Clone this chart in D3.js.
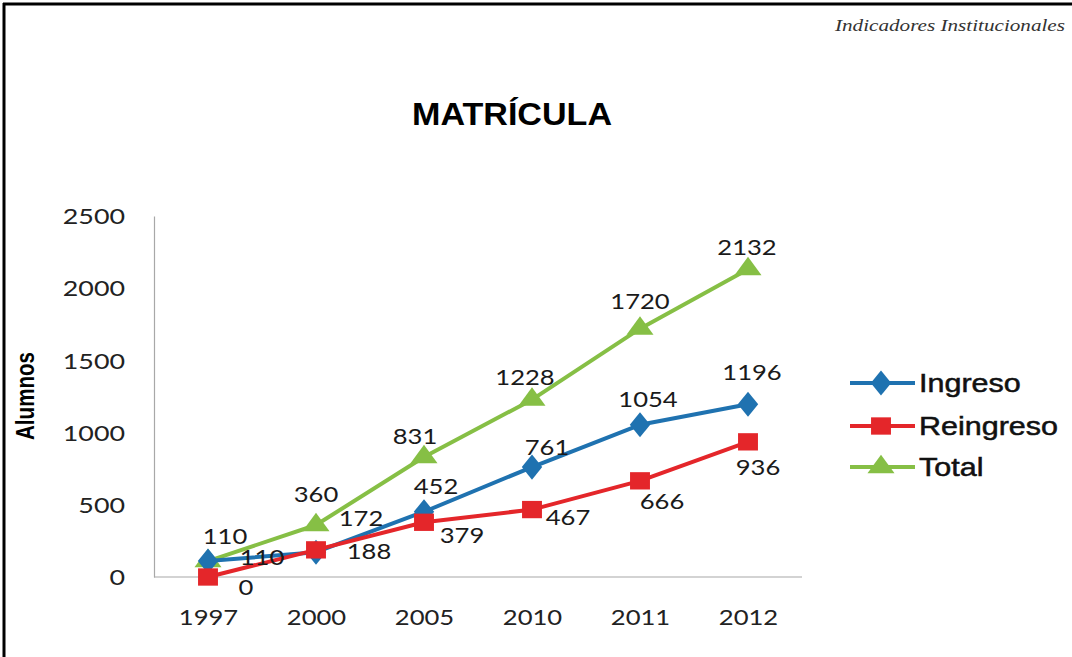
<!DOCTYPE html>
<html><head><meta charset="utf-8">
<script src="https://cdn.jsdelivr.net/npm/d3@7/dist/d3.min.js"></script>
<style>html,body{margin:0;padding:0;background:#fff;}</style>
</head><body>
<svg id="c" width="1072" height="657"></svg>
<script>
// ---- data ----
const years = ["1997","2000","2005","2010","2011","2012"];
const ingreso = [110,172,452,761,1054,1196];
const reingreso = [0,188,379,467,666,936];
const total = [110,360,831,1228,1720,2132];
const yTicks = [0,500,1000,1500,2000,2500];
const seriesNames = ["Ingreso","Reingreso","Total"];

// ---- layout / style (not data) ----
const SX = 1.22; // horizontal stretch of the scanned original
const labelOffsets = {
  Ingreso:   [[54,-3],[45,-34],[12,-25],[15,-19],[8,-25],[4,-32]],
  Reingreso: [[38,11],[53,2],[38,13],[36,8],[22,21],[10,26]],
  Total:     [[17,-24],[0,-30],[-9,-20],[-7,-22],[0,-27],[-1,-21]]
};
const colors = {Ingreso:"#1f72b0", Reingreso:"#e4262a", Total:"#86bf45"};

const svg = d3.select("#c");
svg.append("rect").attr("width",1072).attr("height",657).attr("fill","#fff");
// frame
svg.append("line").attr("x1",4).attr("x2",4).attr("y1",3).attr("y2",657).attr("stroke","#000").attr("stroke-width",3);
svg.append("line").attr("x1",3).attr("x2",1072).attr("y1",4).attr("y2",4).attr("stroke","#000").attr("stroke-width",3);

// header
svg.append("text").attr("x",1065).attr("y",31).attr("text-anchor","end")
  .attr("font-family","Liberation Serif, DejaVu Serif, serif").attr("font-style","italic")
  .attr("font-size",17).attr("textLength",230).attr("lengthAdjust","spacingAndGlyphs")
  .attr("fill","#333").text("Indicadores Institucionales");

svg.append("text").attr("x",512).attr("y",125).attr("text-anchor","middle")
  .attr("font-family","Liberation Sans, Arial, sans-serif").attr("font-weight","bold")
  .attr("font-size",31).attr("textLength",200).attr("lengthAdjust","spacingAndGlyphs")
  .attr("fill","#000").text("MATRÍCULA");

svg.append("text").attr("transform","translate(34,396) rotate(-90)").attr("text-anchor","middle")
  .attr("font-family","Liberation Sans Narrow, Liberation Sans, Arial, sans-serif").attr("font-weight","bold")
  .attr("font-size",25).attr("textLength",88).attr("lengthAdjust","spacingAndGlyphs")
  .attr("fill","#000").text("Alumnos");

// scales
const x = d3.scalePoint().domain(years).range([154,802]).padding(0.5);
const y = d3.scaleLinear().domain([0,2500]).range([577,216]);

const numFont = "Lato, Open Sans, sans-serif";

// axes
const gy = svg.append("g").attr("transform","translate(154,0)")
  .call(d3.axisLeft(y).tickValues(yTicks).tickSize(0).tickFormat(d3.format("d")));
gy.select(".domain").attr("stroke","#a8a8a8").attr("stroke-width",1.2);
gy.selectAll("text").attr("x",-29/SX).attr("transform",`scale(${SX},1)`)
  .attr("font-family",numFont).attr("font-size",22).attr("fill","#222").attr("dy","0.35em");

const gx = svg.append("g").attr("transform","translate(0,577)")
  .call(d3.axisBottom(x).tickSize(0));
gx.select(".domain").attr("stroke","#a8a8a8").attr("stroke-width",1.2).attr("d","M154,0H802");
gx.selectAll("text").attr("y",41).attr("dy","0.35em").attr("transform",`scale(${SX},1)`)
  .attr("font-family",numFont).attr("font-size",21).attr("fill","#222").attr("x",0);

const series = [
  {name:"Ingreso", values:ingreso, marker:d3.symbolDiamond, size:150},
  {name:"Reingreso", values:reingreso, marker:d3.symbolSquare, size:300},
  {name:"Total", values:total, marker:d3.symbolTriangle, size:220}
];

const line = d3.line().x((d,i)=>x(years[i])).y(d=>y(d));

function marker(g, s, cx, cy){
  const sym = d3.symbol().type(s.marker).size(s.size)();
  let tr = `translate(${cx},${cy})`;
  if (s.name==="Ingreso") tr += " scale(1.55,1.1)";
  if (s.name==="Reingreso") tr += " scale(1.15,1)";
  if (s.name==="Total") tr += " scale(1.2,0.95)";
  g.append("path").attr("d",sym).attr("transform",tr).attr("fill",colors[s.name]);
}

// Total at bottom, then Ingreso, then Reingreso on top
const drawOrder = [series[2], series[0], series[1]];
drawOrder.forEach(s=>{
  const g = svg.append("g");
  g.append("path").datum(s.values).attr("d",line).attr("fill","none")
    .attr("stroke",colors[s.name]).attr("stroke-width",4).attr("stroke-linejoin","round");
  s.values.forEach((v,i)=> marker(g, s, x(years[i]), y(v)));
});

// data labels
series.forEach(s=>{
  s.values.forEach((v,i)=>{
    const [dx,dy] = labelOffsets[s.name][i];
    svg.append("text").attr("transform",`translate(${x(years[i])+dx},${y(v)+dy}) scale(${SX},1)`)
      .attr("text-anchor","middle").attr("dy","0.35em")
      .attr("font-family",numFont).attr("font-size",21).attr("fill","#1a1a1a").text(v);
  });
});

// legend
const legY = [383,426,467];
series.forEach((s,i)=>{
  const g = svg.append("g");
  g.append("line").attr("x1",850).attr("x2",915).attr("y1",legY[i]).attr("y2",legY[i])
    .attr("stroke",colors[s.name]).attr("stroke-width",4);
  marker(g, s, 881, legY[i]);
  g.append("text").attr("transform",`translate(919,${legY[i]}) scale(${SX},1)`).attr("dy","0.36em")
    .attr("font-family","Liberation Sans, Arial, sans-serif").attr("font-size",25)
    .attr("fill","#111").attr("stroke","#111").attr("stroke-width",0.5).text(s.name);
});
</script>
</body></html>
